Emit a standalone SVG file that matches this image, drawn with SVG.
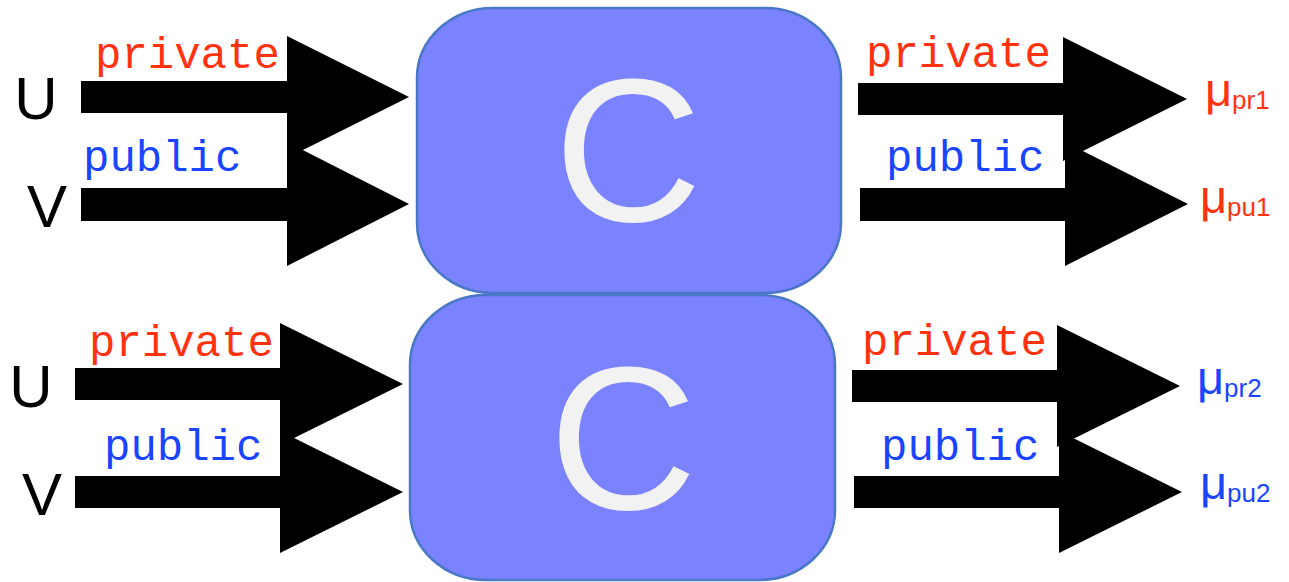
<svg xmlns="http://www.w3.org/2000/svg" width="1289" height="582" viewBox="0 0 1289 582">
  <style>
    .box { fill: #7b82fe; stroke: #4a78c8; stroke-width: 2.5; }
    .big { font-family: "Liberation Sans", Arial, sans-serif; font-size: 205px; fill: #f2f2f2; text-anchor: middle; }
    .arrow { fill: #000000; }
    .mono { font-family: "Liberation Mono", "Courier New", monospace; font-size: 44px; }
    .red { fill: #ff3210; }
    .blue { fill: #1a45ff; }
    .io { font-family: "Liberation Sans", Arial, sans-serif; font-size: 60px; fill: #000000; text-anchor: middle; }
    .mu { font-family: "Liberation Sans", Arial, sans-serif; }
  </style>

  <!-- wide block arrows -->
  <g id="connectors">
    <polygon class="arrow" points="81,81 287,81 287,36 409,97 287,158 287,113 81,113"/>
    <polygon class="arrow" points="81,188 287,188 287,142 409,204 287,266 287,221 81,221"/>
    <polygon class="arrow" points="858,83 1063,83 1063,37 1187,99 1063,161 1063,115 858,115"/>
    <polygon class="arrow" points="860,188 1065,188 1065,142 1188,204 1065,266 1065,221 860,221"/>
    <polygon class="arrow" points="75,368 280,368 280,323 403,384 280,445 280,400 75,400"/>
    <polygon class="arrow" points="75,476 280,476 280,431 403,492 280,553 280,508 75,508"/>
    <polygon class="arrow" points="852,370 1057,370 1057,325 1180,386 1057,447 1057,402 852,402"/>
    <polygon class="arrow" points="854,476 1059,476 1059,431 1182,492 1059,553 1059,508 854,508"/>
  </g>

  <!-- arrow labels -->
  <g id="arrow-labels" class="mono">
    <text class="red" x="95" y="68">private</text>
    <text class="blue" x="83" y="171">public</text>
    <text class="red" x="866" y="67">private</text>
    <text class="blue" x="886" y="171">public</text>
    <text class="red" x="89" y="356">private</text>
    <text class="blue" x="104" y="460">public</text>
    <text class="red" x="862" y="355">private</text>
    <text class="blue" x="881" y="460">public</text>
  </g>

  <!-- C blocks -->
  <g id="node-c1">
    <rect class="box" x="417" y="8" width="424" height="285" rx="76" ry="70"/>
    <text class="big" x="628" y="221">C</text>
  </g>
  <g id="node-c2">
    <rect class="box" x="410" y="295" width="425" height="285" rx="76" ry="70"/>
    <text class="big" x="623" y="509">C</text>
  </g>

  <!-- inputs -->
  <g id="input-u1"><text class="io" x="36" y="119">U</text></g>
  <g id="input-v1"><text class="io" x="47" y="227">V</text></g>
  <g id="input-u2"><text class="io" x="31" y="407">U</text></g>
  <g id="input-v2"><text class="io" x="42" y="515">V</text></g>

  <!-- outputs -->
  <g id="output-pr1"><text class="mu red" x="1205" y="106"><tspan font-size="47">μ</tspan><tspan font-size="26" dy="3">pr1</tspan></text></g>
  <g id="output-pu1"><text class="mu red" x="1200" y="213"><tspan font-size="47">μ</tspan><tspan font-size="26" dy="3">pu1</tspan></text></g>
  <g id="output-pr2"><text class="mu blue" x="1197" y="394"><tspan font-size="47">μ</tspan><tspan font-size="26" dy="3">pr2</tspan></text></g>
  <g id="output-pu2"><text class="mu blue" x="1200" y="499"><tspan font-size="47">μ</tspan><tspan font-size="26" dy="3">pu2</tspan></text></g>
</svg>
